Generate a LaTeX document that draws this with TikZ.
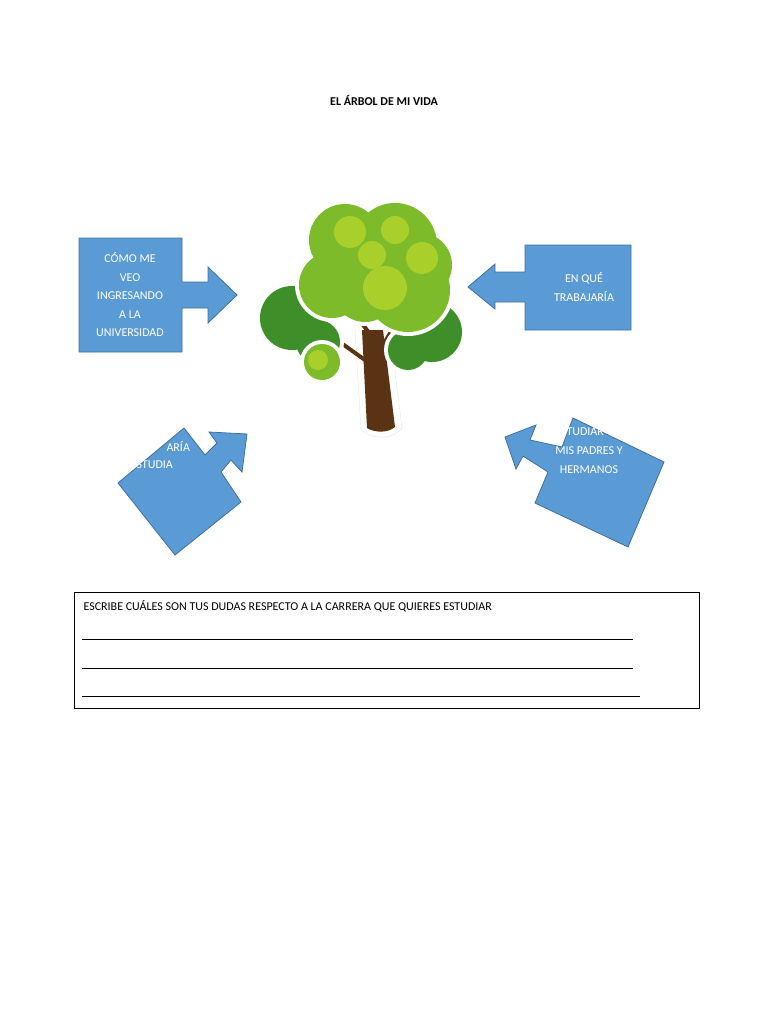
\documentclass[tikz,border=0pt]{standalone}
\usepackage{fontspec}
\setmainfont{Carlito}
\begin{document}
\begin{tikzpicture}[x=1pt,y=-1pt,
 blue/.style={fill=cb,draw=cbd,line width=0.8pt},
 wt/.style={text=white,font=\fontsize{12}{18.5}\selectfont,align=center}]
\definecolor{cb}{HTML}{5B9BD5}\definecolor{cbd}{HTML}{41719C}
\definecolor{g1}{HTML}{3E8E2A}\definecolor{g2}{HTML}{7DBB2A}\definecolor{g3}{HTML}{A8CF2A}\definecolor{br}{HTML}{5A3214}
\useasboundingbox (0,0) rectangle (768,1024);
\node[font=\bfseries\fontsize{12}{14}\selectfont] (title) at (384,101) {EL ÁRBOL DE MI VIDA};
% top-left callout
\draw[blue] (79,238) -- (182,238) -- (182,282) -- (208,282) -- (208,267) -- (237,295) -- (208,323) -- (208,308) -- (182,308) -- (182,352) -- (79,352) -- cycle;
\node[wt] (t1) at (130,295) {CÓMO ME\\VEO\\INGRESANDO\\A LA\\UNIVERSIDAD};
% top-right callout
\draw[blue] (631,245) -- (525,245) -- (525,272) -- (495,272) -- (495,264) -- (468,287) -- (495,309) -- (495,302) -- (525,302) -- (525,330) -- (631,330) -- cycle;
\node[wt] (t2) at (584,287) {EN QUÉ\\TRABAJARÍA};
% lower-left rotated callout
\draw[blue] (118,483) -- (184,428) -- (205,455) -- (217,443) -- (209,432) -- (247,434) -- (242,472) -- (231,460) -- (221,472) -- (241,502) -- (175,555) -- cycle;
\node[wt,anchor=west] (t3) at (163,446) {ARÍA};
\node[wt,anchor=west] (t4) at (133,465) {STUDIA};
% lower-right rotated callout
\draw[blue] (573,418) -- (664,462) -- (628,547) -- (535,503) -- (548,472) -- (523,456) -- (516,469) -- (505,437) -- (536,425) -- (530,440) -- (562,447) -- cycle;
\node[wt,anchor=west] (t5) at (563,432) {TUDIAR};
\node[wt] (t6) at (589,460) {MIS PADRES Y\\HERMANOS};
% tree
\fill[white,draw=black!10] (355,330) -- (361,430) .. controls (375,440) and (392,440) .. (402,428) -- (390,330) -- cycle;
\fill[br] (362,330) -- (367,428) .. controls (375,433) and (388,433) .. (395,427) -- (383,330) -- cycle;
\draw[br,line width=4pt] (372,365) -- (330,335) (385,360) -- (420,340) (378,345) -- (358,318) (383,345) -- (398,320);
\foreach \x/\y/\r in {292/318/32,318/342/22,432/332/30,408/350/20}{\fill[white] (\x,\y) circle (\r+4);}
\foreach \x/\y/\r in {292/318/32,318/342/22,432/332/30,408/350/20}{\fill[g1] (\x,\y) circle (\r);}
\foreach \x/\y/\r in {345/240/36,395/245/42,332/285/33,408/290/42,365/290/32,420/265/32}{\fill[white] (\x,\y) circle (\r+4);}
\foreach \x/\y/\r in {345/240/36,395/245/42,332/285/33,408/290/42,365/290/32,420/265/32}{\fill[g2] (\x,\y) circle (\r);}
\foreach \x/\y/\r in {350/232/16,385/288/22,372/255/14,422/258/16,395/230/14}{\fill[g3] (\x,\y) circle (\r);}
\fill[white] (322,362) circle (22);\fill[g2] (322,362) circle (18);\fill[g3] (318,360) circle (10);
% bottom box
\draw[line width=0.6pt] (74,592) rectangle (699,708);
\node[anchor=west,font=\fontsize{12}{14}\selectfont] (q) at (80,606) {ESCRIBE CUÁLES SON TUS DUDAS RESPECTO A LA CARRERA QUE QUIERES ESTUDIAR};
\coordinate (a1) at (82,639);\coordinate (b1) at (633,639);
\coordinate (a2) at (82,668);\coordinate (b2) at (633,668);
\coordinate (a3) at (82,696);\coordinate (b3) at (640,696);
\draw[line width=0.6pt] (a1) -- (b1) (a2) -- (b2) (a3) -- (b3);
\end{tikzpicture}
\end{document}
